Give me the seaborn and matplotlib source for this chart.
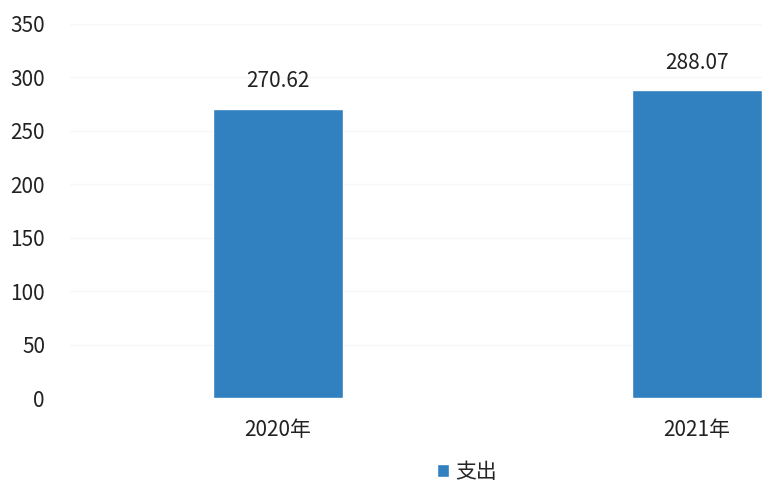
import matplotlib
matplotlib.use('Agg')
import matplotlib.pyplot as plt
import pandas as pd
import seaborn as sns
from matplotlib.patches import Patch

# 数据
years = ['2020年', '2021年']
spending = [270.62, 288.07]
series_name = '支出'
yticks = [0, 50, 100, 150, 200, 250, 300, 350]

bar_color = '#3180BF'

sns.set_style('white')
plt.rcParams['font.family'] = ['Noto Sans CJK SC', 'DejaVu Sans']

df = pd.DataFrame({'year': years, 'value': spending})

fig = plt.figure(figsize=(7.62, 4.94), dpi=100)
ax = fig.add_axes([70 / 762, 96 / 494, 692 / 762, 374 / 494])

sns.barplot(data=df, x='year', y='value', color=bar_color, width=0.31,
            saturation=1, ax=ax)

# 数值标签
ax.bar_label(ax.containers[0], labels=[f'{v:.2f}' for v in spending],
             padding=12, fontsize=15, color='#222222')

ax.set_ylim(0, 350)
ax.set_yticks(yticks)
ax.set_xlim(-0.495, 1.155)
ax.grid(axis='y', color='#f7f7f7', linewidth=1)
ax.set_axisbelow(True)
for s in ax.spines.values():
    s.set_visible(False)
ax.tick_params(axis='y', length=0, pad=18, labelsize=15, labelcolor='#222222')
ax.tick_params(axis='x', length=0, pad=15, labelsize=15, labelcolor='#222222')
ax.set_xlabel('')
ax.set_ylabel('')

# 图例
fig.legend(handles=[Patch(facecolor=bar_color, label=series_name)],
           loc='lower center', bbox_to_anchor=(467 / 762, -0.015),
           frameon=False, fontsize=15, handlelength=0.6, handleheight=0.6,
           handletextpad=0.3)

fig.savefig('out.png', dpi=100)
plt.close(fig)
